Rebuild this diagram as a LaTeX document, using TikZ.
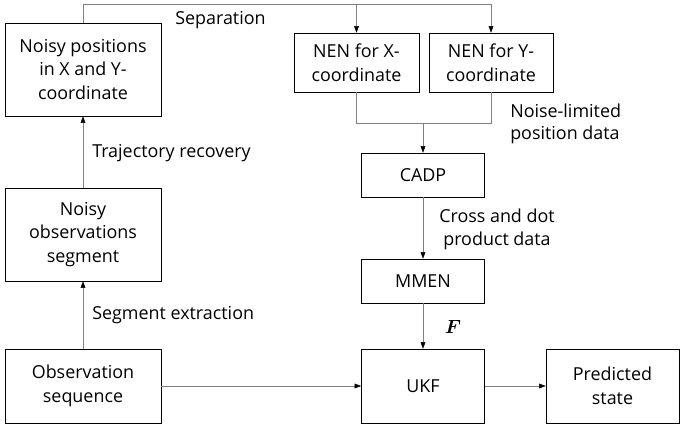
\documentclass[tikz,border=0pt]{standalone}
\usepackage{fontspec}
\setsansfont{Open Sans}
\usepackage{amsmath}
\usepackage{tikz}
\usetikzlibrary{arrows.meta}

\begin{document}
\begin{tikzpicture}[x=0.0265cm, y=-0.0265cm,
  block/.style={draw=black, thin, align=center, inner sep=2pt,
    font=\sffamily\fontsize{13.5}{18}\selectfont},
  lbl/.style={align=left, inner sep=0pt,
    font=\sffamily\fontsize{13.5}{17}\selectfont},
  conn/.style={draw=black!50, thin},
  arr/.style={conn, -{Triangle[length=5pt, width=3.6pt, color=black]}}]

\useasboundingbox (0,0) rectangle (682,428);

% Left column
\path
(83,69.5) node [block, minimum width=4.134cm, minimum height=2.465cm] (npos) {Noisy positions\\in X and Y-\\coordinate};
\path
(83,234.5) node [block, minimum width=4.134cm, minimum height=2.465cm] (nseg) {Noisy\\observations\\segment};
\path
(83,386) node [block, minimum width=4.134cm, minimum height=1.961cm] (obs) {Observation\\sequence};

% Noise elimination networks
\path
(356.5,62.5) node [block, minimum width=3.313cm, minimum height=1.564cm] (nenx) {NEN for X-\\coordinate};
\path
(491,62.5) node [block, minimum width=3.286cm, minimum height=1.564cm] (neny) {NEN for Y-\\coordinate};

% Middle column
\path
(423,175) node [block, minimum width=3.26cm, minimum height=1.166cm] (cadp) {CADP};
\path
(423,281) node [block, minimum width=3.26cm, minimum height=1.166cm] (mmen) {MMEN};
\path
(423,386) node [block, minimum width=3.26cm, minimum height=1.961cm] (ukf) {UKF};

% Output
\path
(612.5,386) node [block, minimum width=3.525cm, minimum height=1.961cm] (pred) {Predicted\\state};

% Helper points
\coordinate (sepjoin) at (356.5,4);
\coordinate (merge) at (423,123);

% Separation
\draw[conn] (npos.north) |- (sepjoin);
\draw[arr] (sepjoin) -| (neny.north);
\draw[arr] (sepjoin) -- (nenx.north);

% Merging
\draw[conn] (nenx.south) |- (merge);
\draw[conn] (neny.south) |- (merge);
\draw[arr] (merge) -- (cadp.north);

% Remaining flow
\draw[arr] (cadp) -- (mmen);
\draw[arr] (mmen) -- (ukf);
\draw[arr] (obs) -- (ukf);
\draw[arr] (ukf) -- (pred);
\draw[arr] (obs) -- (nseg);
\draw[arr] (nseg) -- (npos);

% Labels
\path
(175,20) node [lbl, anchor=west] (lsep) {Separation};
\path
(92,153) node [lbl, anchor=west] (ltraj) {Trajectory recovery};
\path
(92,315) node [lbl, anchor=west] (lseg) {Segment extraction};
\path
(510,124) node [lbl, anchor=west] (lnoise) {Noise-limited\\position data};
\path
(497,229.5) node [lbl, align=center] (lcross) {Cross and dot\\product data};
\path
(453,327) node [inner sep=0pt, font=\Large] (lf) {$\boldsymbol{F}$};

\end{tikzpicture}
\end{document}
